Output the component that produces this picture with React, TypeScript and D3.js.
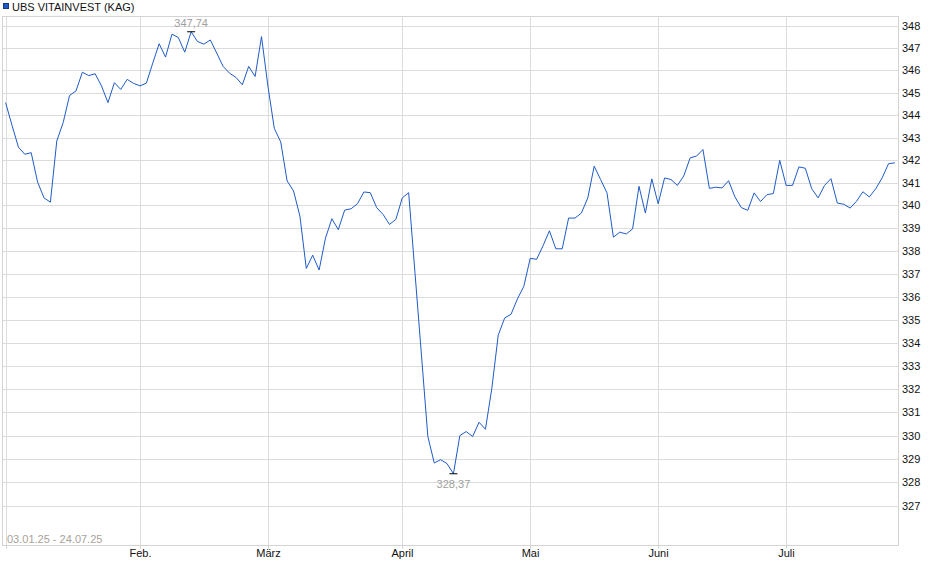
import * as d3 from "d3";

// Daily values per month, 03.01.25 - 24.07.25
const jan = [344.56, 343.55, 342.58, 342.26, 342.33, 341.03, 340.33, 340.14, 342.85, 343.67, 344.88, 345.08, 345.92, 345.77, 345.85, 345.3, 344.56, 345.45, 345.15, 345.6, 345.42];
const feb = [345.31, 345.43, 346.33, 347.2, 346.6, 347.63, 347.48, 346.82, 347.74, 347.3, 347.18, 347.37, 346.78, 346.18, 345.88, 345.69, 345.36, 346.18, 345.73, 347.52];
const mar = [345.3, 343.41, 342.81, 341.08, 340.64, 339.53, 337.23, 337.81, 337.16, 338.56, 339.41, 338.93, 339.79, 339.85, 340.07, 340.59, 340.56, 339.9, 339.6, 339.16, 339.38];
const apr = [340.33, 340.56, 337.0, 333.46, 329.96, 328.83, 328.97, 328.8, 328.37, 330.0, 330.17, 329.96, 330.57, 330.27, 332.03, 334.32, 335.07, 335.23, 335.9, 336.45];
const may = [337.67, 337.63, 338.22, 338.88, 338.09, 338.09, 339.44, 339.44, 339.66, 340.33, 341.73, 341.14, 340.55, 338.6, 338.82, 338.74, 338.96, 340.84, 339.66, 341.17];
const jun = [340.07, 341.21, 341.14, 340.88, 341.3, 342.1, 342.18, 342.47, 340.75, 340.8, 340.77, 341.09, 340.37, 339.9, 339.78, 340.55, 340.17, 340.47, 340.52, 341.99];
const jul = [340.88, 340.88, 341.7, 341.64, 340.73, 340.33, 340.88, 341.18, 340.1, 340.05, 339.88, 340.18, 340.6, 340.37, 340.73, 341.21, 341.84, 341.88];

const months = [jan, feb, mar, apr, may, jun, jul];
const monthLabels = ["", "Feb.", "März", "April", "Mai", "Juni", "Juli"];
const yTicks = d3.range(327, 349);

const seriesName = "UBS VITAINVEST (KAG)";
const rangeLabel = "03.01.25 - 24.07.25";

const width = 940;
const height = 579;
const frame = { left: 2.5, top: 16.5, right: 898.5, bottom: 545.5 };
const font = "'Liberation Sans', Arial, sans-serif";
const lineColor = "#1f5bc6";

const deFormat = d3.formatLocale({
  decimal: ",",
  thousands: ".",
  grouping: [3],
  currency: ["", " €"],
}).format(".2f");

export default function App() {
  const values = months.flat();
  // index of first point of each month
  const starts = months.map((_, i) => d3.sum(months.slice(0, i), (m) => m.length));

  const x = d3.scaleLinear().domain([0, values.length - 1]).range([5.6, 894.9]);
  const y = d3.scaleLog().domain([327, 348]).range([506, 26]);

  const line = d3
    .line<number>()
    .x((_, i) => x(i))
    .y((d) => y(d));

  const maxI = d3.maxIndex(values);
  const minI = d3.minIndex(values);

  return (
    <svg
      width={width}
      height={height}
      style={{ position: "absolute", left: 0, top: 0, background: "#fff" }}
      fontFamily={font}
      fontSize={11}
    >
      {/* legend */}
      <rect x={3.5} y={3.5} width={5} height={5} fill={lineColor} stroke="#123a85" />
      <text x={12} y={10.5} fill="#111">{seriesName}</text>

      {/* horizontal grid + labels */}
      {yTicks.map((t) => {
        const yy = Math.round(y(t)) + 0.5;
        return (
          <g key={t}>
            <line x1={frame.left} x2={frame.right} y1={yy} y2={yy} stroke="#dcdcdc" />
            <text x={902} y={yy} dy="0.35em" fill="#111">{t}</text>
          </g>
        );
      })}

      {/* vertical grid + month labels */}
      {starts.map((s, i) => {
        const xx = Math.round(x(s)) + 0.5;
        return (
          <g key={i}>
            <line x1={xx} x2={xx} y1={frame.top} y2={frame.bottom} stroke="#dcdcdc" />
            <line x1={xx} x2={xx} y1={frame.bottom} y2={frame.bottom + 3} stroke="#cfcfcf" />
            <text x={xx} y={557} textAnchor="middle" fill="#111">{monthLabels[i]}</text>
          </g>
        );
      })}

      {/* frame */}
      <rect
        x={frame.left}
        y={frame.top}
        width={frame.right - frame.left}
        height={frame.bottom - frame.top}
        fill="none"
        stroke="#d4d4d4"
      />

      <text x={7} y={543} fill="#a8a29a">{rangeLabel}</text>

      {/* series */}
      <path d={line(values) ?? ""} fill="none" stroke={lineColor} strokeWidth={1} />

      {/* max / min markers */}
      <line x1={x(maxI) - 4} x2={x(maxI) + 4} y1={y(values[maxI])} y2={y(values[maxI])} stroke="#000" />
      <text x={x(maxI)} y={27} textAnchor="middle" fill="#a0a0a0">{deFormat(values[maxI])}</text>
      <line x1={x(minI) - 4} x2={x(minI) + 4} y1={y(values[minI])} y2={y(values[minI])} stroke="#000" />
      <text x={x(minI)} y={488} textAnchor="middle" fill="#a0a0a0">{deFormat(values[minI])}</text>
    </svg>
  );
}
